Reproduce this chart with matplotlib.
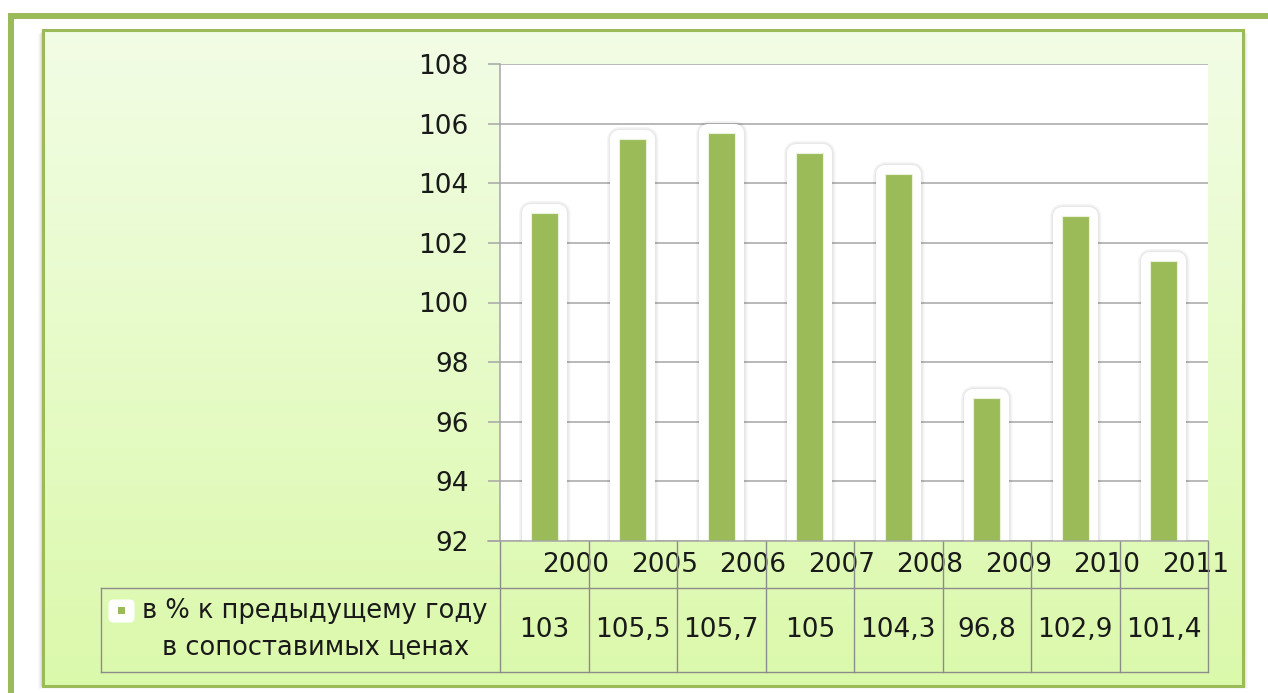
import numpy as np
import matplotlib
matplotlib.use("Agg")
import matplotlib.pyplot as plt
import matplotlib.patheffects as pe
import matplotlib.transforms as mtransforms
from matplotlib.patches import Rectangle, FancyBboxPatch

# ---- data ----
years = ["2000", "2005", "2006", "2007", "2008", "2009", "2010", "2011"]
values = [103, 105.5, 105.7, 105, 104.3, 96.8, 102.9, 101.4]
value_labels = ["103", "105,5", "105,7", "105", "104,3", "96,8", "102,9", "101,4"]
series_name = ["в % к предыдущему году", "в сопоставимых ценах"]
y_ticks = [92, 94, 96, 98, 100, 102, 104, 106, 108]

W, H = 1268, 693
GREEN = "#9BBB59"
GRID = "#A6A6A6"
TABLE = "#8C8C8C"
FS = 19

plt.rcParams['font.family'] = ['DejaVu Sans']
fig = plt.figure(figsize=(W / 100, H / 100), dpi=100)
fig.patch.set_facecolor("white")

# background axes in pixel coordinates
bg = fig.add_axes([0, 0, 1, 1], zorder=0)
bg.set_xlim(0, W)
bg.set_ylim(H, 0)
bg.axis("off")

# outer frame lines
bg.add_patch(Rectangle((8, 13), W - 8, 6, color=GREEN, lw=0))
bg.add_patch(Rectangle((8, 13), 6, H - 13, color=GREEN, lw=0))

# inner box shadow
for k, a in enumerate([0.05, 0.04, 0.03, 0.02]):
    bg.add_patch(Rectangle((43 - 2 - k, 31 + k), 1200 + 4 + 2 * k, 655, color="black",
                           alpha=a, lw=0))
# gradient inside inner box
grad = np.linspace(0, 1, 256)[:, None]
top = np.array([0xF2, 0xFD, 0xE5]) / 255
bot = np.array([0xDB, 0xF9, 0xAB]) / 255
img = top[None, None, :] * (1 - grad[..., None]) + bot[None, None, :] * grad[..., None]
img = np.repeat(img, 2, axis=1)
bg.imshow(img, extent=(43, 1243, 686, 30), aspect="auto", zorder=1, interpolation="bilinear")
bg.add_patch(Rectangle((43, 30), 1200, 656, fill=False, edgecolor=GREEN, lw=2.2, zorder=2))

# main axes
L, R, T, B = 500, 1208, 64, 541
ax = fig.add_axes([L / W, (H - B) / H, (R - L) / W, (B - T) / H], zorder=2)
ax.set_facecolor("white")
x = np.arange(len(years))
ax.set_xlim(-0.5, len(years) - 0.5)
ax.set_ylim(92, 108)
ax.set_yticks(y_ticks)
ax.set_yticklabels([str(v) for v in y_ticks], fontsize=FS, color="#1a1a1a")
ax.tick_params(axis="y", length=8.6, width=1.1, color=GRID, pad=14)
ax.set_xticks([])
ax.tick_params(axis="x", length=0)
ax.yaxis.grid(True, color=GRID, lw=1.1)
ax.set_axisbelow(True)
for s in ["top", "right"]:
    ax.spines[s].set_visible(False)
for s in ["left", "bottom"]:
    ax.spines[s].set_color(GRID)
    ax.spines[s].set_linewidth(1.1)
ax.spines["bottom"].set_zorder(5)

effects = [pe.Stroke(linewidth=w, foreground="black", alpha=0.018, joinstyle="round")
           for w in (18, 17, 16, 15, 14.2)]
effects += [pe.Stroke(linewidth=13, foreground="white", joinstyle="round"), pe.Normal()]
bars = ax.bar(x, np.array(values) - 92, bottom=92, width=0.3, color=GREEN,
              edgecolor="#EAF2DA", linewidth=0.8, zorder=3)
for b in bars:
    b.set_path_effects(effects)

# bottom axis tick extension to the left
ax.plot([-0.5 - 12 / 88.5, -0.5], [92, 92], color=GRID, lw=1.1, clip_on=False, zorder=5)

# table
tr = mtransforms.blended_transform_factory(ax.transData, ax.transAxes)
ph = B - T
y_hdr = -(588 - B) / ph
y_bot = -(672 - B) / ph
for i in range(len(years) + 1):
    ax.plot([i - 0.5, i - 0.5], [0, y_bot], transform=tr, color=TABLE, lw=1.0,
            clip_on=False, zorder=5)
x_leg = -0.5 - (L - 101) / 88.5
ax.plot([x_leg, len(years) - 0.5], [y_hdr, y_hdr], transform=tr, color=TABLE, lw=1.0,
        clip_on=False)
ax.plot([x_leg, len(years) - 0.5], [y_bot, y_bot], transform=tr, color=TABLE, lw=1.0,
        clip_on=False)
ax.plot([x_leg, x_leg], [y_hdr, y_bot], transform=tr, color=TABLE, lw=1.0, clip_on=False)

for i, (yr, vl) in enumerate(zip(years, value_labels)):
    ax.text(i + 0.36, -(565 - B) / ph, yr, transform=tr, ha="center", va="center",
            fontsize=FS, color="#1a1a1a", clip_on=False)
    ax.text(i, -(630 - B) / ph, vl, transform=tr, ha="center", va="center",
            fontsize=FS, color="#1a1a1a", clip_on=False)

# legend cell content
bg.add_patch(FancyBboxPatch((110, 601), 23, 20, boxstyle="round,pad=1.5,rounding_size=5",
                            facecolor="white", edgecolor="none", zorder=3))
bg.add_patch(Rectangle((118, 607), 7, 7, color=GREEN, lw=0, zorder=4))
bg.text(315, 611, series_name[0], ha="center", va="center", fontsize=FS - 0.5,
        color="#1a1a1a", zorder=4)
bg.text(316, 648, series_name[1], ha="center", va="center", fontsize=FS - 0.5,
        color="#1a1a1a", zorder=4)

fig.savefig("out.png", dpi=100, facecolor="white")
